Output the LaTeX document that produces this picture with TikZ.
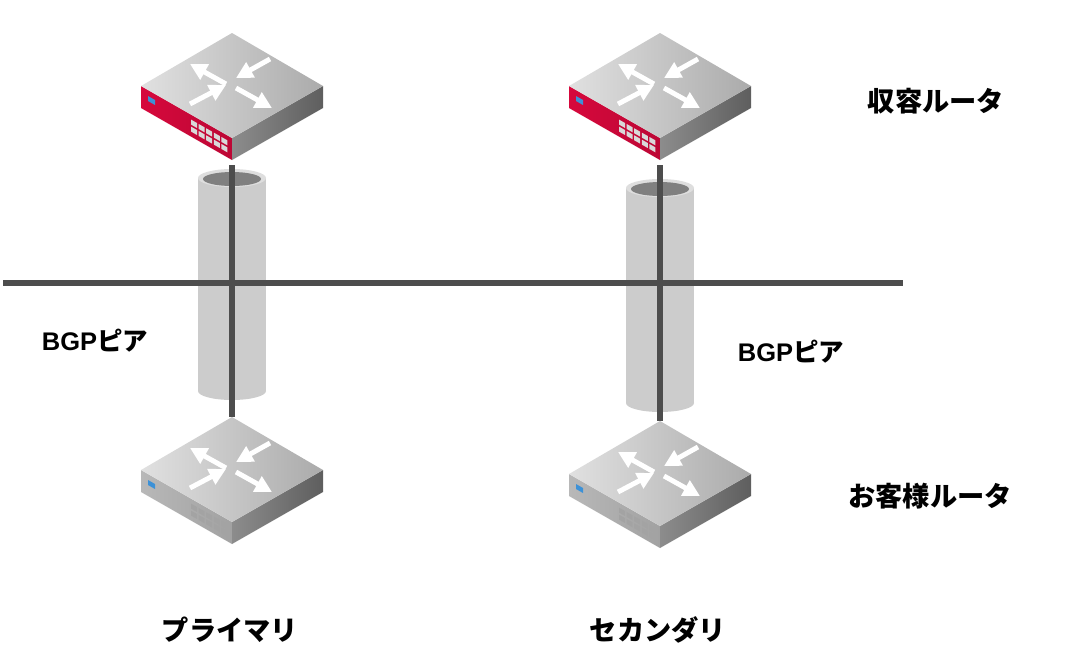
\documentclass[tikz,border=0pt]{standalone}
\usepackage{fontspec}
\setmainfont{Liberation Sans}
\newfontfamily\jp{Noto Sans CJK JP}
\usetikzlibrary{arrows.meta}

\definecolor{routerred}{RGB}{214,8,60}
\definecolor{custgray}{RGB}{184,184,184}
\definecolor{ledblue}{RGB}{60,145,215}
\definecolor{linegray}{RGB}{77,77,77}

% router icon: #1 name, #2 x, #3 y, #4 front colour, #5 port colour
\newcommand{\router}[5]{%
  \begin{scope}[shift={(#2,#3)}]
    \shade[left color=#4, right color=#4!88!black] (-91,0) -- (0,52) -- (0,74) -- (-91,22) -- cycle;
    \shade[left color=black!45, right color=black!63] (0,52) -- (91,0) -- (91,22) -- (0,74) -- cycle;
    \shade[left color=black!12, middle color=black!6, right color=black!33] (0,-53) -- (91,0) -- (0,52) -- (-91,0) -- cycle;
    \fill[ledblue] (-84,10) -- (-77,14) -- (-77,19) -- (-84,15) -- cycle;
    \foreach \c in {0,...,4} {
      \foreach \r in {5,12} {
        \fill[#5] ({-41+7.6*\c},{52+0.571*(-41+7.6*\c)+\r}) -- ++(6,3.4) -- ++(0,5) -- ++(-6,-3.4) -- cycle;
      }
    }
    \draw[arr] (-6,-2) -- (-42,-22);
    \draw[arr] (4,2) -- (40,22);
    \draw[arr] (38,-27) -- (4,-8);
    \draw[arr] (-42,18) -- (-6,-1);
    \coordinate (#1-n) at (0,-53);
    \coordinate (#1-s) at (0,79);
  \end{scope}}

% tube: #1 x, #2 top y, #3 bottom y
\newcommand{\tube}[3]{%
  \fill[black!20] ({#1-34},#2) rectangle ({#1+34},#3);
  \fill[black!20] (#1,#3) ellipse (34 and 9);
  \fill[black!13] (#1,#2) ellipse (34 and 9);
  \fill[black!50] (#1,{#2+1}) ellipse (29 and 7);}

\begin{document}
\begin{tikzpicture}[x=0.02cm, y=-0.02cm,
    arr/.style={white, line width=2.8pt, -{Triangle[length=9.5pt,width=9.5pt]}},
    link/.style={linegray, line width=3pt},
    jplabel/.style={font=\jp\bfseries\fontsize{15.5}{18}\selectfont},
    bgplabel/.style={font=\bfseries\fontsize{14.5}{17}\selectfont}]
    \useasboundingbox (0,0) rectangle (1072,660);

    \tube{232}{178}{391}
    \tube{660}{188}{403}

    \router{shuyou1}{232}{86}{routerred}{white!85!black}
    \router{shuyou2}{660}{86}{routerred}{white!85!black}
    \router{kyaku1}{232}{470}{custgray}{black!36}
    \router{kyaku2}{660}{474}{custgray}{black!36}

    \coordinate (wanW) at (3,283);
    \coordinate (wanE) at (903,283);
    \draw[link] (wanW) -- (wanE);
    \draw[link] (shuyou1-s) -- (kyaku1-n);
    \draw[link] (shuyou2-s) -- (kyaku2-n);

    \node[jplabel] (lblShuyou) at (936,101) {収容ルータ};
    \node[jplabel] (lblKyaku) at (930,496) {お客様ルータ};
    \node[bgplabel] (bgp1) at (95,341) {BGP{\jp ピア}};
    \node[bgplabel] (bgp2) at (791,352) {BGP{\jp ピア}};
    \node[jplabel] (lblPrim) at (230,630) {プライマリ};
    \node[jplabel] (lblSec) at (658,630) {セカンダリ};
\end{tikzpicture}
\end{document}
